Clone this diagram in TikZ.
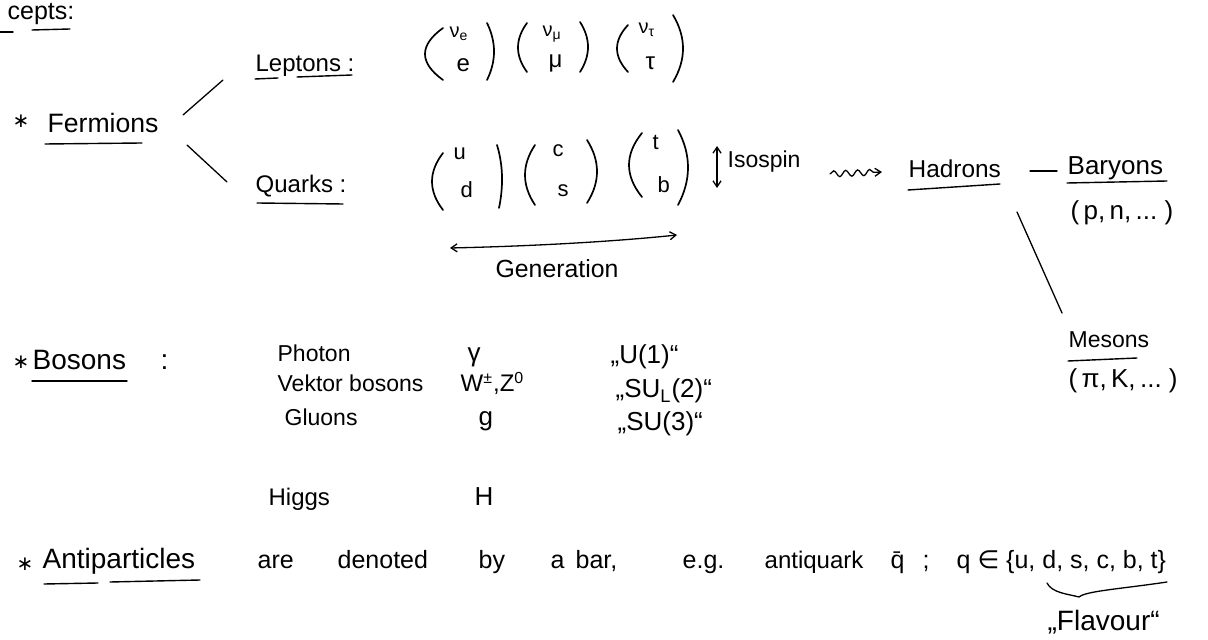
\documentclass[tikz,border=0pt]{standalone}
\usepackage{fontspec}
\setmainfont{Liberation Sans}
\newfontfamily\symfont{DejaVu Sans}
\usetikzlibrary{arrows.meta,decorations.pathmorphing}
\newcommand{\mkpar}[5]{\draw[pline] (#1,#2) .. controls ({(#1+#3)/2+(#5-(#1+#3)/2)*4/3},{#2+(#4-#2)/3}) and ({(#1+#3)/2+(#5-(#1+#3)/2)*4/3},{#2+2*(#4-#2)/3}) .. (#3,#4);}
\begin{document}
\begin{tikzpicture}[x=0.5pt,y=-0.5pt, line width=0.65pt, line cap=round,
  txt/.style={inner sep=0pt, anchor=base west},
  fs/.style={font=\fontsize{#1}{#1}\selectfont},
  starsym/.style={inner sep=0pt, anchor=base west, font=\symfont\fontsize{10}{10}\selectfont},
  uline/.style={line width=0.7pt},
  pline/.style={line width=0.85pt},
  conn/.style={line width=0.65pt},
  barb/.style={{Straight Barb[length=3pt,width=4pt]}-{Straight Barb[length=3pt,width=4pt]}},
]
\useasboundingbox (0,0) rectangle (1208,640);

% --- heading
\node[txt,fs=12.5] (cep) at (7,20) {cepts:};
\draw[uline] (0,32) -- (13,32);
\draw[uline] (32,30) -- (70,29);

% --- Fermions
\node[starsym] (fstar) at (12,128) {∗};
\node[txt,fs=13.3] (fer) at (47,133) {Fermions};
\draw[uline] (45,144) -- (142,143);
\coordinate (fl1) at (183,115); \coordinate (fl2) at (223,80);
\coordinate (fq1) at (187,145); \coordinate (fq2) at (227,182);
\draw[conn] (fl1) -- (fl2);
\draw[conn] (fq1) -- (fq2);

\node[txt,fs=12] (lep) at (255,72) {Leptons :};
\draw[uline] (255,79) -- (278,78);
\draw[uline] (297,77) -- (352,75);
\node[txt,fs=12] (qua) at (255,193) {Quarks :};
\draw[uline] (257,203) -- (343,204);

% --- lepton doublets
\mkpar{443}{28}{443}{80}{425}
\mkpar{487}{23}{487}{80}{494}
\mkpar{527}{23}{527}{72}{518}
\mkpar{580}{22}{580}{72}{588}
\mkpar{628}{25}{628}{72}{617}
\mkpar{673}{15}{673}{82}{683}
\node[txt,fs=10] (nue) at (449,38) {ν\textsubscript{e}};
\node[txt,fs=12] (ele) at (456,72) {e};
\node[txt,fs=10] (num) at (542,37) {ν\textsubscript{μ}};
\node[txt,fs=12] (muo) at (548,68) {μ};
\node[txt,fs=10] (nut) at (638,34) {ν\textsubscript{τ}};
\node[txt,fs=12] (tau) at (645,70) {τ};

% --- quark doublets
\mkpar{443}{153}{443}{210}{432}
\mkpar{497}{145}{499}{208}{502}
\mkpar{535}{145}{535}{205}{525}
\mkpar{587}{140}{587}{203}{597}
\mkpar{642}{133}{642}{197}{629}
\mkpar{678}{130}{678}{205}{688}
\node[txt,fs=11] (qu) at (453,160) {u};
\node[txt,fs=11] (qd) at (460,198) {d};
\node[txt,fs=11] (qc) at (552,157) {c};
\node[txt,fs=11] (qs) at (557,197) {s};
\node[txt,fs=11] (qt) at (652,150) {t};
\node[txt,fs=11] (qb) at (657,193) {b};

% --- isospin
\coordinate (iso1) at (717,146); \coordinate (iso2) at (717,188);
\draw[conn,barb] (iso1) -- (iso2);
\node[txt,fs=11.5] (isot) at (727,168) {Isospin};

% --- wavy arrow to hadrons
\coordinate (wv1) at (830,174); \coordinate (wv2) at (882,172);
\draw[conn,decorate,decoration={snake,amplitude=1.5pt,segment length=6pt,post length=3pt},-{Straight Barb[length=3pt,width=4pt]}] (wv1) -- (wv2);

\node[txt,fs=12.2] (had) at (908,178) {Hadrons};
\draw[uline] (908,190) -- (1000,184);
\coordinate (hb1) at (1030,171); \coordinate (hb2) at (1057,171);
\draw[conn] (hb1) -- (hb2);
\node[txt,fs=13] (bar) at (1067,175) {Baryons};
\draw[uline] (1067,183) -- (1167,181);
\node[txt,fs=13] (barex) at (1070,220) {(\,p,\,n,\,...\;)};
\coordinate (hm1) at (1017,212); \coordinate (hm2) at (1062,313);
\draw[conn] (hm1) -- (hm2);
\node[txt,fs=11.5] (mes) at (1068,348) {Mesons};
\draw[uline] (1068,361) -- (1137,358);
\node[txt,fs=13] (mesex) at (1068,388) {(\,π,\,K,\,...\;)};

% --- generation
\coordinate (g1) at (450,248); \coordinate (g2) at (677,235);
\draw[conn,barb] (g1) .. controls (540,246) and (620,241) .. (g2);
\node[txt,fs=12.4] (gen) at (495,278) {Generation};

% --- Bosons
\node[starsym] (bstar) at (12,369) {∗};
\node[txt,fs=14] (bos) at (32,370) {Bosons};
\draw[uline] (32,381) -- (127,381);
\node[txt,fs=14] (bcol) at (160,370) {:};

\node[txt,fs=11.5] (pho) at (277,362) {Photon};
\node[txt,fs=13] (gam) at (467,362) {γ};
\node[txt,fs=13] (u1) at (610,364) {„U(1)“};
\node[txt,fs=11.5] (vek) at (277,392) {Vektor bosons};
\node[txt,fs=12] (wz) at (460,392) {W\textsuperscript{±},Z\textsuperscript{0}};
\node[txt,fs=13] (su2) at (615,398) {„SU\textsubscript{L}(2)“};
\node[txt,fs=11.5] (glu) at (284,425) {Gluons};
\node[txt,fs=13] (gsym) at (478,425) {g};
\node[txt,fs=13] (su3) at (617,430) {„SU(3)“};
\node[txt,fs=12] (hig) at (268,505) {Higgs};
\node[txt,fs=13] (hsym) at (474,505) {H};

% --- Antiparticles
\node[starsym] (astar) at (16,570) {∗};
\node[txt,fs=14] (anti) at (42,568) {Antiparticles};
\draw[uline] (44,584) -- (98,583);
\draw[uline] (110,582) -- (200,580);
\node[txt,fs=12.5] (w1) at (257,568) {are};
\node[txt,fs=12.5] (w2) at (337,568) {denoted};
\node[txt,fs=12.5] (w3) at (478,568) {by};
\node[txt,fs=12.5] (w4) at (550,568) {a};
\node[txt,fs=12.5] (w5) at (575,568) {bar,};
\node[txt,fs=12.5] (w6) at (682,568) {e.g.};
\node[txt,fs=12] (w7) at (764,568) {antiquark};
\node[txt,fs=12.5] (qbar) at (890,568) {\={q}};
\node[txt,fs=12.5] (semi) at (922,568) {;};
\node[txt,fs=12.5] (qset) at (956,568) {q {\symfont ∈} \{u,\;d,\;s,\;c,\;b,\;t\}};
\coordinate (br1) at (1047,583); \coordinate (brt) at (1079,597); \coordinate (br2) at (1167,582);
\draw[conn] (br1) .. controls (1052,593) and (1068,594) .. (brt) .. controls (1086,591) and (1120,589) .. (br2);
\node[txt,fs=14] (flav) at (1047,630) {„Flavour“};
\end{tikzpicture}
\end{document}
